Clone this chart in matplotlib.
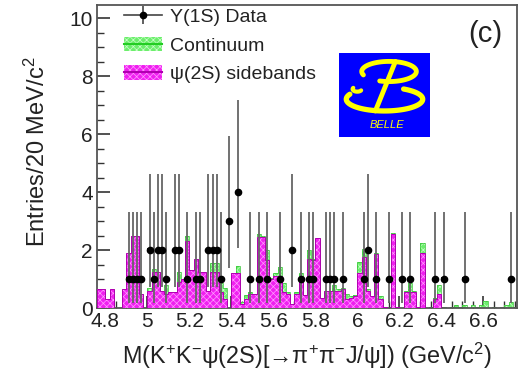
import numpy as np
import matplotlib
matplotlib.use("Agg")
import matplotlib.pyplot as plt
from matplotlib.patches import Patch, Rectangle
from matplotlib.lines import Line2D
from matplotlib.legend_handler import HandlerTuple
from matplotlib.ticker import MultipleLocator

plt.rcParams['font.family'] = ['Liberation Sans', 'DejaVu Sans']
plt.rcParams['mathtext.fontset'] = 'custom'
plt.rcParams['mathtext.rm'] = 'Liberation Sans'
plt.rcParams['mathtext.it'] = 'Liberation Sans:italic'
plt.rcParams['hatch.linewidth'] = 0.5

# 20 MeV bins from 4.76 to 6.76 GeV/c^2
bin_lo, bin_hi, bin_w = 4.76, 6.76, 0.02

# psi(2S) sidebands (magenta), read per bin
sideband = [0.65, 0.65, 0.30, 0.65, 0.00, 0.00, 0.65, 1.90, 2.50, 2.50,
            0.50, 0.00, 0.60, 1.25, 1.25, 0.60, 0.50, 0.55, 0.55, 0.90,
            1.00, 2.30, 1.30, 1.70, 1.25, 1.25, 0.60, 1.25, 1.25, 0.55,
            0.30, 0.00, 1.20, 1.20, 0.15, 0.30, 0.50, 0.50, 2.45, 2.45,
            1.65, 1.00, 1.10, 1.10, 0.55, 0.50, 0.15, 0.50, 1.00, 0.45,
            1.70, 1.65, 2.40, 0.35, 0.60, 0.60, 0.60, 0.60, 0.65, 0.30,
            0.35, 0.40, 1.20, 1.75, 0.60, 0.40, 1.85, 0.30, 0.05, 0.00,
            2.55, 0.05, 0.00, 0.55, 0.55, 0.55, 0.05, 1.90, 0.00, 0.00,
            0.30, 0.50, 0.00, 0.00, 0.00, 0.00, 0.00, 0.00, 0.00, 0.00,
            0.00, 0.00, 0.00, 0.00, 0.00, 0.00, 0.00, 0.00, 0.00, 0.00]

# continuum (green), stacked on top of the sidebands
continuum = [0.00, 0.00, 0.00, 0.00, 0.00, 0.00, 0.00, 0.00, 0.00, 0.00,
             0.00, 0.00, 0.10, 0.10, 0.00, 0.00, 0.30, 0.00, 0.00, 0.35,
             0.00, 0.20, 0.00, 0.00, 0.00, 0.00, 0.00, 0.30, 0.30, 0.30,
             0.40, 0.00, 0.00, 0.25, 0.05, 0.15, 0.05, 0.00, 0.10, 0.05,
             0.35, 0.05, 0.10, 0.30, 0.30, 0.05, 0.00, 0.05, 0.20, 0.00,
             0.30, 0.05, 0.00, 0.00, 0.00, 0.00, 0.20, 0.05, 0.05, 0.20,
             0.05, 0.05, 0.40, 0.30, 0.05, 0.00, 0.05, 0.10, 0.00, 0.00,
             0.05, 0.00, 0.00, 0.05, 0.30, 0.05, 0.00, 0.35, 0.00, 0.02,
             0.05, 0.30, 0.05, 0.00, 0.05, 0.10, 0.05, 0.10, 0.00, 0.10,
             0.05, 0.10, 0.25, 0.00, 0.05, 0.00, 0.05, 0.10, 0.20, 0.05]

# Upsilon(1S) data counts per bin
data_counts = [0, 0, 0, 0, 0, 0, 0, 1, 1, 1,
               1, 0, 2, 1, 2, 2, 1, 0, 2, 2,
               0, 1, 0, 1, 1, 0, 2, 2, 2, 1,
               0, 3, 0, 4, 0, 0, 1, 0, 1, 0,
               1, 0, 0, 1, 0, 0, 2, 0, 1, 0,
               1, 1, 0, 0, 1, 1, 1, 0, 1, 0,
               0, 0, 0, 1, 2, 0, 1, 0, 0, 1,
               0, 0, 1, 0, 1, 0, 0, 0, 0, 0,
               1, 0, 1, 0, 0, 0, 0, 1, 0, 0,
               0, 0, 0, 0, 0, 0, 0, 0, 1, 0]

# 68% Poisson intervals for small counts
poisson_lo = {1: 0.173, 2: 0.708, 3: 1.367, 4: 2.086}
poisson_hi = {1: 3.300, 2: 4.638, 3: 5.918, 4: 7.163}

edges = np.linspace(bin_lo, bin_hi, len(sideband) + 1)
centers = 0.5 * (edges[:-1] + edges[1:])
sb = np.array(sideband)
co = np.array(continuum)
cnt = np.array(data_counts)

mag_face, mag_hatch, mag_line = '#f020f0', '#ff9cff', '#b000b0'
grn_face, grn_hatch, grn_line = '#6cee6c', '#c8ffc8', '#30c030'

fig = plt.figure(figsize=(5.2, 3.76), dpi=100)
ax = fig.add_axes([97/520, 1-308/376, 420/520, 303/376])

# stacked histograms
ax.bar(edges[:-1], co, bottom=sb, width=bin_w, align='edge',
       facecolor=grn_face, edgecolor=grn_hatch, hatch='xxxxx', linewidth=0, zorder=2)
ax.stairs(sb + co, edges, color=grn_line, lw=0.5, zorder=2)
ax.bar(edges[:-1], sb, width=bin_w, align='edge',
       facecolor=mag_face, edgecolor=mag_hatch, hatch='xxxxx', linewidth=0, zorder=3)
ax.stairs(sb, edges, color=mag_line, lw=0.7, zorder=3)

# data points
sel = cnt > 0
xs = centers[sel]
ys = cnt[sel]
lo = np.array([n - poisson_lo[n] for n in ys])
hi = np.array([poisson_hi[n] - n for n in ys])
ax.errorbar(xs, ys, yerr=[lo, hi], fmt='none', ecolor='#666666', elinewidth=1.3, zorder=4)
ax.errorbar(xs, ys, xerr=bin_w/2, fmt='o', color='black', ms=4.5,
            elinewidth=2.6, zorder=5)

ax.set_xlim(bin_lo, bin_hi)
ax.set_ylim(0, 10.45)
ax.xaxis.set_minor_locator(MultipleLocator(0.05))
ax.yaxis.set_major_locator(MultipleLocator(2))
ax.yaxis.set_minor_locator(MultipleLocator(0.5))
ax.set_xticks(np.arange(4.8, 6.61, 0.2))
ax.set_xticklabels(['4.8', '5', '5.2', '5.4', '5.6', '5.8', '6', '6.2', '6.4', '6.6'])
ax.tick_params(which='both', direction='in', top=False, right=False,
               colors='#333333', labelcolor='#222222', labelsize=15)
ax.tick_params(which='major', length=9, width=1.2)
ax.tick_params(which='minor', length=5, width=1.0)
ax.tick_params(axis='x', pad=3)
ax.tick_params(axis='y', pad=3)
for sp in ax.spines.values():
    sp.set_color('#555555')
    sp.set_linewidth(1.3)

fig.text(37/520, 1-152/376, 'Entries/20 MeV/c$^{2}$', rotation=90,
         ha='center', va='center', fontsize=17, color='#222222')
fig.text(307/520, 1-356/376, 'M(K$^{+}$K$^{-}$ψ(2S)[→π$^{+}$π$^{-}$J/ψ]) (GeV/c$^{2}$)',
         ha='center', va='center', fontsize=16.8, color='#222222')
fig.text(485/520, 1-34/376, '(c)', ha='center', va='center', fontsize=21, color='#222222')

# legend
h_data = (Line2D([0], [0], color='#444444', lw=1.2),
          Line2D([0], [0], marker='|', ms=13, color='#444444', ls='none', mew=1.2),
          Line2D([0], [0], marker='o', ms=4.5, color='black', ls='none'))
h_cont = (Patch(facecolor=grn_face, edgecolor=grn_hatch, hatch='xxxxx', lw=0),
          Line2D([0], [0], color='#22cc22', lw=1.5))
h_sb = (Patch(facecolor=mag_face, edgecolor=mag_hatch, hatch='xxxxx', lw=0),
        Line2D([0], [0], color=mag_line, lw=1.5))
leg = ax.legend([h_data, h_cont, h_sb], ['Υ(1S) Data', 'Continuum', 'ψ(2S) sidebands'],
                handler_map={tuple: HandlerTuple(ndivide=1)},
                loc='upper left', bbox_to_anchor=(0.045, 1.015), frameon=False,
                fontsize=14, handlelength=1.95, handleheight=0.75,
                labelspacing=0.55, handletextpad=0.45, borderaxespad=0)
for t in leg.get_texts():
    t.set_color('#222222')

# Belle logo
logo = fig.add_axes([339/520, 1-137/376, 91/520, 84/376])
logo.set_xlim(0, 1)
logo.set_ylim(0, 1)
logo.axis('off')
logo.add_patch(Rectangle((0, 0), 1, 1, color='#0000ff'))
yel = '#ffff00'
t = np.radians(np.linspace(200, -110, 80))
logo.plot(0.55 + 0.30*np.cos(t), 0.78 + 0.12*np.sin(t), color=yel, lw=3.5, solid_capstyle='round')
t = np.radians(np.linspace(60, -205, 80))
logo.plot(0.50 + 0.42*np.cos(t), 0.45 + 0.14*np.sin(t), color=yel, lw=3.8, solid_capstyle='round')
t = np.radians(np.linspace(150, 330, 30))
logo.plot(0.20 + 0.05*np.cos(t), 0.57 + 0.03*np.sin(t), color=yel, lw=3, solid_capstyle='round')
logo.plot([0.62, 0.40], [0.90, 0.31], color=yel, lw=3.5, solid_capstyle='round')
logo.text(0.53, 0.14, 'BELLE', color=yel, fontsize=8, style='italic',
          ha='center', va='center')

fig.savefig('out.png', dpi=100)
